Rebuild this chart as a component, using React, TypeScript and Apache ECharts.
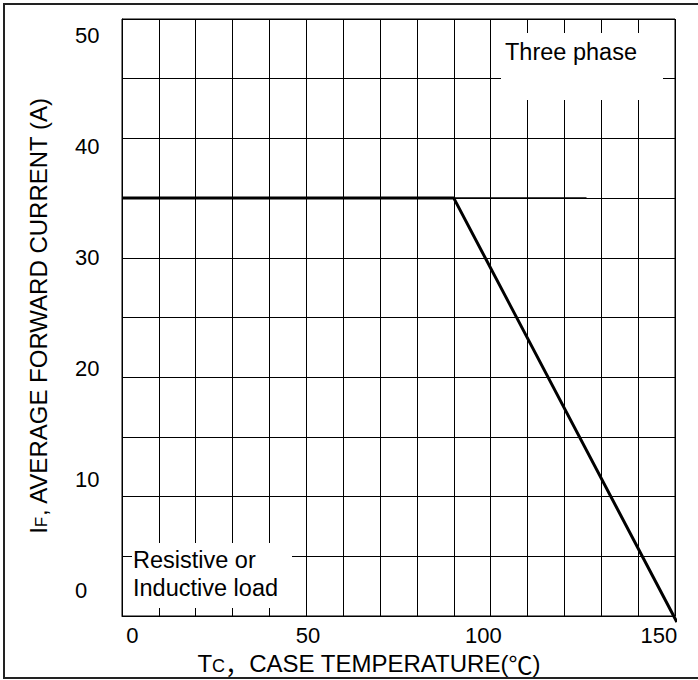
import React, { useEffect, useRef } from "react";
import * as echarts from "echarts";

// Derating curve (case temperature °C -> average forward current A)
const curveTemp = [0, 90, 150.5];
const curveCurrent = [35, 35, -0.5];
// thin continuation of the 35 A level
const extTemp = [90, 126];
const extCurrent = [35, 35];

const xTickLabels = [0, 50, 100, 150];
const yTickLabels = [0, 10, 20, 30, 40, 50];

const FONT = "'Liberation Sans', Arial, Helvetica, sans-serif";
const CJK = "'Noto Sans CJK SC', 'DejaVu Sans', sans-serif";

export default function App() {
  const ref = useRef<HTMLDivElement>(null);

  useEffect(() => {
    if (!ref.current) return;
    const chart = echarts.init(ref.current, undefined, { renderer: "svg" });

    const showIf = (list: number[]) => (v: number) =>
      list.some((t) => Math.abs(t - v) < 1e-6) ? String(v) : "";

    const option: any = {
      animation: false,
      backgroundColor: "#fff",
      grid: {
        left: 122,
        top: 19,
        right: 23,
        bottom: 60,
        show: true,
        borderColor: "#000",
        borderWidth: 1,
        backgroundColor: "transparent",
      },
      xAxis: [
        {
          type: "value",
          position: "bottom",
          min: 0,
          max: 150,
          interval: 10,
          axisLine: { show: true, onZero: false, lineStyle: { color: "#000", width: 1 } },
          axisTick: { show: false },
          axisLabel: { show: false },
          splitLine: { show: true, lineStyle: { color: "#000", width: 1 } },
          name: "{m|T}{s|C}{c|，}{m|CASE TEMPERATURE(}{c|℃}{m|)}",
          nameLocation: "middle",
          nameGap: 35,
          nameTextStyle: {
            color: "#000",
            fontFamily: FONT,
            fontSize: 24,
            padding: [0, 59, 0, 0],
            rich: {
              m: { fontSize: 24, fontFamily: FONT, color: "#000", verticalAlign: "bottom" },
              s: { fontSize: 18, fontFamily: FONT, color: "#000", verticalAlign: "bottom" },
              c: { fontSize: 24, fontFamily: CJK, color: "#000", verticalAlign: "bottom" },
            },
          },
        },
        {
          type: "value",
          position: "bottom",
          min: -2.97,
          max: 154.62,
          splitNumber: 3,
          axisLine: { show: false, onZero: false },
          axisTick: { show: false },
          splitLine: { show: false },
          axisLabel: {
            show: true,
            margin: 8,
            fontSize: 22,
            color: "#000",
            fontFamily: FONT,
            showMinLabel: false,
            showMaxLabel: false,
            formatter: showIf(xTickLabels),
          },
        },
      ],
      yAxis: [
        {
          type: "value",
          position: "left",
          min: 0,
          max: 50,
          interval: 5,
          axisLine: { show: true, onZero: false, lineStyle: { color: "#000", width: 1 } },
          axisTick: { show: false },
          axisLabel: { show: false },
          splitLine: { show: true, lineStyle: { color: "#000", width: 1 } },
          name: "{m|I}{s|F}{m|, AVERAGE FORWARD CURRENT (A)}",
          nameLocation: "middle",
          nameRotate: 90,
          nameGap: 72,
          nameTextStyle: {
            color: "#000",
            fontFamily: FONT,
            fontSize: 24,
            padding: [0, 0, 0, 4],
            rich: {
              m: { fontSize: 24, fontFamily: FONT, color: "#000", verticalAlign: "bottom" },
              s: { fontSize: 17, fontFamily: FONT, color: "#000", verticalAlign: "bottom" },
            },
          },
        },
        {
          type: "value",
          position: "left",
          min: -2.32,
          max: 51.5,
          splitNumber: 5,
          axisLine: { show: false, onZero: false },
          axisTick: { show: false },
          splitLine: { show: false },
          axisLabel: {
            show: true,
            margin: 47,
            align: "left",
            fontSize: 22,
            color: "#000",
            fontFamily: FONT,
            showMinLabel: false,
            showMaxLabel: false,
            formatter: showIf(yTickLabels),
          },
        },
      ],
      series: [
        {
          type: "line",
          name: "Three phase",
          xAxisIndex: 0,
          yAxisIndex: 0,
          data: curveTemp.map((t, i) => [t, curveCurrent[i]]),
          showSymbol: false,
          symbol: "none",
          clip: false,
          lineStyle: { color: "#000", width: 3 },
          z: 5,
        },
        {
          type: "line",
          name: "level",
          xAxisIndex: 0,
          yAxisIndex: 0,
          data: extTemp.map((t, i) => [t, extCurrent[i]]),
          showSymbol: false,
          symbol: "none",
          lineStyle: { color: "#000", width: 1.6 },
          z: 4,
        },
      ],
      graphic: [
        {
          type: "rect",
          z: 100,
          silent: true,
          shape: { x: 4, y: 4, width: 700, height: 674 },
          style: { fill: "none", stroke: "#222", lineWidth: 2 },
        },
        {
          type: "rect",
          z: 10,
          shape: { x: 501, y: 33, width: 162, height: 67 },
          style: { fill: "#fff" },
        },
        {
          type: "text",
          z: 11,
          x: 505,
          y: 52,
          style: {
            text: "Three phase",
            fontFamily: FONT,
            fontSize: 23.5,
            fill: "#000",
            align: "left",
            verticalAlign: "middle",
          },
        },
        {
          type: "rect",
          z: 10,
          shape: { x: 132, y: 543, width: 160, height: 65 },
          style: { fill: "#fff" },
        },
        {
          type: "text",
          z: 11,
          x: 133,
          y: 574,
          style: {
            text: "Resistive or\nInductive load",
            fontFamily: FONT,
            fontSize: 23.5,
            lineHeight: 28,
            fill: "#000",
            align: "left",
            verticalAlign: "middle",
          },
        },
      ],
    };

    chart.setOption(option);
    return () => chart.dispose();
  }, []);

  return (
    <div
      ref={ref}
      style={{ position: "fixed", left: 0, top: 0, width: 698, height: 680, background: "#fff" }}
    />
  );
}
